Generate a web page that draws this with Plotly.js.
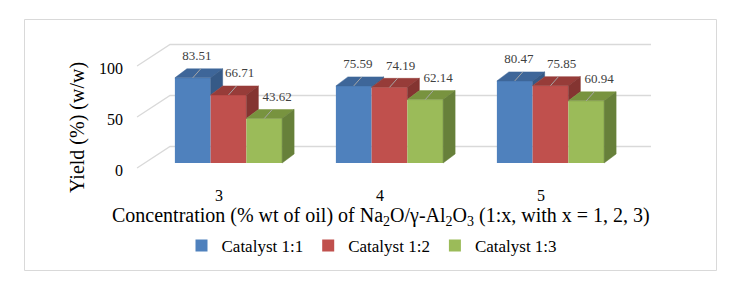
<!DOCTYPE html>
<html>
<head>
<meta charset="utf-8">
<script src="https://cdn.plot.ly/plotly-3.0.1.min.js"></script>
<style>
  html, body { margin: 0; padding: 0; background: #ffffff; }
  #chart { width: 749px; height: 293px; }
</style>
</head>
<body>
<div id="chart"></div>
<script>
// ---------------- data ----------------
const categories = ['3', '4', '5'];
const seriesNames = ['Catalyst 1:1', 'Catalyst 1:2', 'Catalyst 1:3'];
const catalyst11 = [83.51, 75.59, 80.47];
const catalyst12 = [66.71, 74.19, 75.85];
const catalyst13 = [43.62, 62.14, 60.94];
const yTicks = [0, 50, 100];
const yTitle = 'Yield (%) (w/w)';
const xTitle = 'Concentration (% wt of oil) of Na<sub>2</sub>O/γ-Al<sub>2</sub>O<sub>3</sub> (1:x, with x = 1, 2, 3)';

// ---------------- styling / geometry ----------------
const W = 749, H = 293;
const PL = 128, PR = 660, PT = 35, PB = 176;      // plot area in pixels
const X0 = 228.5, PXC = 161;                        // pixel of first category, pixels per category
const ZERO_Y = 163, PXV = 1.02;                     // pixel of value 0 (bar plane), pixels per unit
const BW = 0.222;                                   // bar width (category units)
const DX = 12 / PXC, DV = 9 / PXV;                  // bar depth
const FDX = -6.6 / PXC, FDV = -5 / PXV;             // wall front offset
const BDX = 26.4 / PXC, BDV = 16.5 / PXV;           // wall back offset
const WALL_L = -0.527, WALL_R = 2.46;
const XLAB_SHIFT = -9.5 / PXC;                      // category labels sit on the front plane
const YLAB_SHIFT = -7.5 / PXV;                      // value labels sit on the front plane

const frontCols = ['#4F81BD', '#C0504D', '#9BBB59'];
const topCols   = ['#3E6699', '#973C39', '#78933F'];
const sideCols  = ['#365A87', '#843431', '#67803A'];
const labelDX = [4, 11, 13];                        // px offsets of value labels per series
const FONT = '"Liberation Serif", "Times New Roman", serif';

const series = [catalyst11, catalyst12, catalyst13];
const xIdx = categories.map((c, i) => i);

const xr = [(PL - X0) / PXC, (PR - X0) / PXC];
const yr = [-(PB - ZERO_Y) / PXV, (ZERO_Y - PT) / PXV];
const px2paperX = p => (p - PL) / (PR - PL);
const px2paperY = p => (PB - p) / (PB - PT);

const traces = [];

// front faces: real bar traces
series.forEach((vals, k) => {
  traces.push({
    type: 'bar', x: xIdx, y: vals, name: seriesNames[k],
    marker: { color: frontCols[k], line: { width: 0 } },
    hoverinfo: 'skip'
  });
});

// top and side faces
series.forEach((vals, k) => {
  const tx = [], ty = [], sx = [], sy = [];
  vals.forEach((v, i) => {
    const xl = i + (k - 1.5) * BW, xrr = xl + BW;
    tx.push(xl, xrr, xrr + DX, xl + DX, xl, null);
    ty.push(v, v, v + DV, v + DV, v, null);
    const next = series[k + 1];
    if (next) {
      const vn = next[i];
      if (vn < v) {
        sx.push(xrr, xrr, xrr + DX, xrr + DX, xrr, null);
        sy.push(vn, v, v + DV, vn + DV, vn, null);
      }
    } else {
      sx.push(xrr, xrr, xrr + DX, xrr + DX, xrr, null);
      sy.push(0, v, v + DV, DV, 0, null);
    }
  });
  traces.push({ type: 'scatter', mode: 'lines', x: tx, y: ty, fill: 'toself',
    fillcolor: topCols[k], line: { color: topCols[k], width: 0.5 },
    showlegend: false, hoverinfo: 'skip' });
  traces.push({ type: 'scatter', mode: 'lines', x: sx, y: sy, fill: 'toself',
    fillcolor: sideCols[k], line: { color: sideCols[k], width: 0.5 },
    showlegend: false, hoverinfo: 'skip' });
});

// leader lines and value labels
series.forEach((vals, k) => {
  const lx = [], ly = [], tx = [], ty = [], tt = [];
  vals.forEach((v, i) => {
    const xc = i + (k - 1) * BW;
    lx.push(xc, xc + 8 / PXC, null);
    ly.push(v, v + 9 / PXV, null);
    tx.push(xc + labelDX[k] / PXC);
    ty.push(v + 21 / PXV);
    tt.push(v.toFixed(2));
  });
  traces.push({ type: 'scatter', mode: 'lines', x: lx, y: ly,
    line: { color: '#A6A6A6', width: 1 }, showlegend: false, hoverinfo: 'skip' });
  traces.push({ type: 'scatter', mode: 'text', x: tx, y: ty, text: tt,
    textposition: 'middle center', cliponaxis: false,
    textfont: { family: FONT, size: 13, color: '#404040' },
    showlegend: false, hoverinfo: 'skip' });
});

// gridlines (floor-to-wall) as shapes below the bars
const shapes = yTicks.map(t => ({
  type: 'path', xref: 'x', yref: 'y', layer: 'below',
  path: 'M' + (WALL_L + FDX) + ',' + (t + FDV) +
        ' L' + (WALL_L + BDX) + ',' + (t + BDV) +
        ' L' + (WALL_R + BDX) + ',' + (t + BDV),
  line: { color: '#D9D9D9', width: 1.3 }
}));
// chart frame
shapes.push({
  type: 'rect', xref: 'paper', yref: 'paper', layer: 'below',
  x0: px2paperX(24.5), x1: px2paperX(716.5), y0: px2paperY(270.5), y1: px2paperY(19.5),
  line: { color: '#D9D9D9', width: 1 }
});

const layout = {
  width: W, height: H,
  margin: { l: PL, r: W - PR, t: PT, b: H - PB, pad: 0 },
  paper_bgcolor: '#ffffff', plot_bgcolor: 'rgba(0,0,0,0)',
  font: { family: FONT, color: '#000000' },
  barmode: 'group', bargap: 1 - 3 * BW, bargroupgap: 0,
  showlegend: true,
  legend: {
    orientation: 'h', x: px2paperX(372), y: px2paperY(246),
    xanchor: 'center', yanchor: 'middle',
    font: { family: FONT, size: 17, color: '#000000' },
    itemwidth: 30, tracegroupgap: 0, traceorder: 'normal'
  },
  xaxis: {
    range: xr, tickmode: 'array',
    tickvals: xIdx.map(i => i + XLAB_SHIFT), ticktext: categories,
    showgrid: false, zeroline: false, showline: false, ticks: '',
    ticklabelstandoff: 8,
    tickfont: { family: FONT, size: 16, color: '#000000' }, fixedrange: true
  },
  yaxis: {
    range: yr, tickmode: 'array',
    tickvals: yTicks.map(t => t + YLAB_SHIFT), ticktext: yTicks.map(String),
    showgrid: false, zeroline: false, showline: false, ticks: '',
    ticklabelstandoff: 4,
    tickfont: { family: FONT, size: 16, color: '#000000' }, fixedrange: true
  },
  shapes: shapes,
  annotations: [
    { text: yTitle, xref: 'paper', yref: 'paper', x: px2paperX(77), y: px2paperY(128),
      xanchor: 'center', yanchor: 'middle', textangle: -90, showarrow: false,
      font: { family: FONT, size: 20, color: '#000000' } },
    { text: xTitle, xref: 'paper', yref: 'paper', x: px2paperX(381), y: px2paperY(216),
      xanchor: 'center', yanchor: 'middle', showarrow: false,
      font: { family: FONT, size: 20, color: '#000000' } }
  ]
};

Plotly.newPlot('chart', traces, layout, { displayModeBar: false, staticPlot: true });
</script>
</body>
</html>
